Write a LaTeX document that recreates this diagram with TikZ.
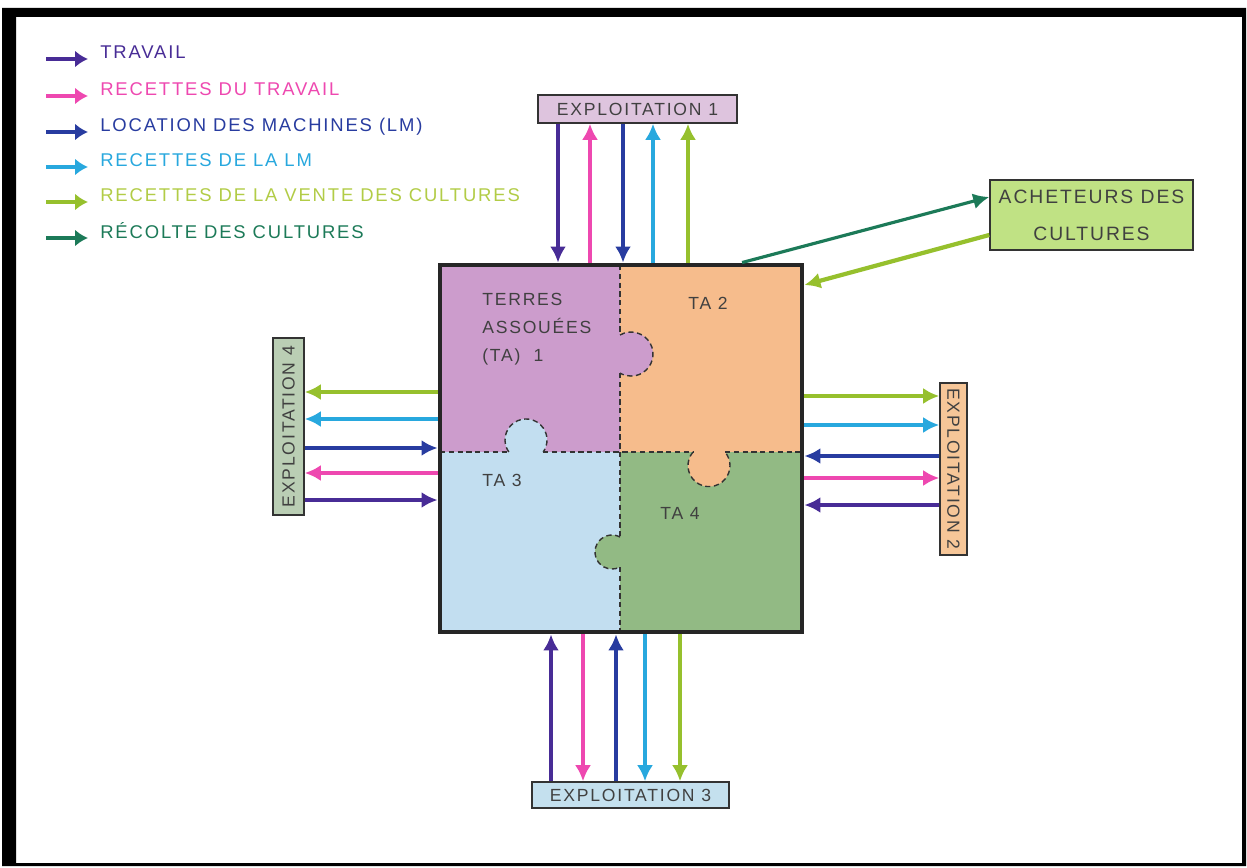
\documentclass[tikz,border=0pt]{standalone}
\usepackage{fontspec}
\setmainfont{Liberation Sans}
\newfontfamily\hand[LetterSpace=10]{Liberation Sans}
\usepackage{tikz}
\usetikzlibrary{arrows.meta,positioning,calc,fit}

\definecolor{cTrav}{RGB}{72,44,150}
\definecolor{cRecT}{RGB}{238,72,176}
\definecolor{cLoc}{RGB}{40,60,160}
\definecolor{cRecLM}{RGB}{40,168,222}
\definecolor{cVente}{RGB}{150,192,45}
\definecolor{cVenteTxt}{RGB}{178,204,70}
\definecolor{cRec}{RGB}{28,122,88}
\definecolor{ta1col}{RGB}{204,156,204}
\definecolor{ta2col}{RGB}{246,188,140}
\definecolor{ta3col}{RGB}{194,222,240}
\definecolor{ta4col}{RGB}{146,186,132}
\definecolor{ex1col}{RGB}{222,196,222}
\definecolor{ex2col}{RGB}{246,198,152}
\definecolor{ex3col}{RGB}{196,224,238}
\definecolor{ex4col}{RGB}{186,206,180}
\definecolor{buycol}{RGB}{192,226,132}

\begin{document}
\begin{tikzpicture}[
    x=0.02cm, y=-0.02cm,
    farm/.style={rectangle, draw=black!80, line width=0.9pt, inner sep=0pt, font=\hand\fontsize{10}{12}\selectfont, text=black!75},
    fwd/.style={-{Latex[length=3.2mm,width=3.2mm]}, line width=1.8pt},
    bwd/.style={{Latex[length=3.2mm,width=3.2mm]}-, line width=1.8pt},
    keyarrow/.style={-{Latex[length=2.6mm,width=3.4mm]}, line width=2.6pt},
    keytext/.style={anchor=base west, inner sep=0pt, font=\hand\fontsize{10.5}{13}\selectfont},
    seam/.style={line width=0.8pt, dash pattern=on 3pt off 2pt},
    talabel/.style={inner sep=0pt, align=left, text=black!75, font=\hand\fontsize{10}{16}\selectfont}
]
\useasboundingbox (0,0) rectangle (1247,868);
\fill[white] (0,0) rectangle (1247,868);

% frame of the sheet
\fill[black, even odd rule] (2,8) rectangle (1246,866) (16,17) rectangle (1242,863);

% Legend
\foreach \y/\c/\tc/\t [count=\i] in {
    59/cTrav/cTrav/TRAVAIL,
    96/cRecT/cRecT/RECETTES DU TRAVAIL,
    132/cLoc/cLoc/LOCATION DES MACHINES (LM),
    167/cRecLM/cRecLM/RECETTES DE LA LM,
    202/cVente/cVenteTxt/RECETTES DE LA VENTE DES CULTURES,
    238/cRec/cRec/RÉCOLTE DES CULTURES} {
  \coordinate (ks\i) at (46,\y);
  \coordinate (ke\i) at (88,\y);
  \draw[keyarrow, draw=\c] (ks\i) -- (ke\i);
  \node[keytext, text=\tc] (key\i) at (100,\y) {\t};
}

% Terres associees (puzzle)
\fill[ta1col] (440,265) rectangle (620,452);
\fill[ta2col] (620,265) rectangle (802,452);
\fill[ta3col] (440,452) rectangle (620,632);
\fill[ta4col] (620,452) rectangle (802,632);

% knobs
\filldraw[fill=ta3col, draw=black!80, seam] (508.8,452) arc[start angle=145, end angle=395, radius=21];
\filldraw[fill=ta1col, draw=black!80, seam] (620,335) arc[start angle=240, end angle=480, radius=22];
\filldraw[fill=ta2col, draw=black!80, seam] (693,452) arc[start angle=220.4, end angle=-40.4, radius=21];
\filldraw[fill=ta4col, draw=black!80, seam] (620,537) arc[start angle=-62, end angle=-298, radius=17];

% seams
\draw[seam, black!80] (440,452) -- (508.8,452) (543.2,452) -- (693,452) (725,452) -- (802,452);
\draw[seam, black!80] (620,265) -- (620,335) (620,373) -- (620,537) (620,567) -- (620,632);

\node[fit={(440,265) (802,632)}, inner sep=0pt, draw=black!85, line width=2.8pt] (plot) {};

\node[talabel, anchor=north west] (ta1) at (482,293) {TERRES\\ASSOUÉES\\(TA)\ \ 1};
\node[talabel, anchor=west] (ta2) at (688,303) {TA 2};
\node[talabel, anchor=west] (ta3) at (482,480) {TA 3};
\node[talabel, anchor=west] (ta4) at (660,513) {TA 4};

% Exploitations
\node[farm, fill=ex1col, minimum width=3.98cm, minimum height=0.56cm] (ex1) at (637.5,109) {EXPLOITATION 1};
\node[farm, fill=ex2col, minimum width=3.44cm, minimum height=0.54cm, rotate=-90] (ex2) at (953.5,469) {EXPLOITATION 2};
\node[farm, fill=ex3col, minimum width=3.94cm, minimum height=0.52cm] (ex3) at (630.5,795) {EXPLOITATION 3};
\node[farm, fill=ex4col, minimum width=3.54cm, minimum height=0.62cm, rotate=90] (ex4) at (288.5,426.5) {EXPLOITATION 4};
\node[farm, fill=buycol, minimum width=4.06cm, minimum height=1.4cm, align=center, font=\hand\fontsize{11}{21}\selectfont] (buyer) at (1091.5,215) {ACHETEURS DES\\CULTURES};

% Flows
\foreach \x/\c/\d in {558/cTrav/fwd, 590/cRecT/bwd, 623/cLoc/fwd, 653/cRecLM/bwd, 688/cVente/bwd}
  \draw[\d, draw=\c] (\x,0 |- ex1.south) -- (\x,0 |- plot.north);
\foreach \x/\c/\d in {551/cTrav/fwd, 583/cRecT/bwd, 616/cLoc/fwd, 645/cRecLM/bwd, 680/cVente/bwd}
  \draw[\d, draw=\c] (\x,0 |- ex3.north) -- (\x,0 |- plot.south);
\foreach \y/\c/\d in {392/cVente/bwd, 419/cRecLM/bwd, 448/cLoc/fwd, 473/cRecT/bwd, 500/cTrav/fwd}
  \draw[\d, draw=\c] (ex4.south |- 0,\y) -- (plot.west |- 0,\y);
\foreach \y/\c/\d in {396/cVente/bwd, 425/cRecLM/bwd, 456/cLoc/fwd, 478/cRecT/bwd, 505/cTrav/fwd}
  \draw[\d, draw=\c] (ex2.south |- 0,\y) -- (plot.east |- 0,\y);

\draw[fwd, draw=cRec] ($(plot.north west)!0.83!(plot.north east)$) -- (buyer.west |- 0,197);
\draw[fwd, draw=cVente, line width=2.4pt] (buyer.west |- 0,235) -- (plot.east |- 0,285);

\end{tikzpicture}
\end{document}
